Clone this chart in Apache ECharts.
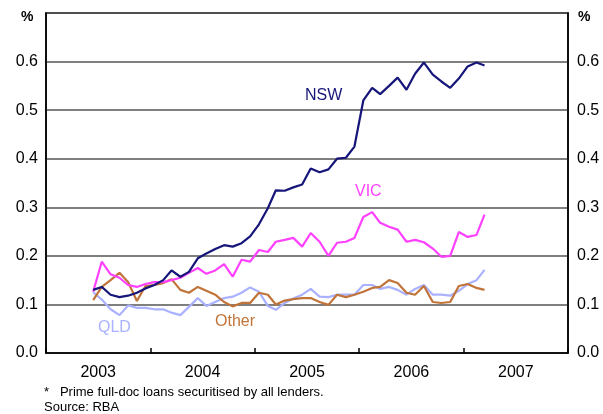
<!DOCTYPE html>
<html>
<head>
<meta charset="utf-8">
<script src="https://cdn.jsdelivr.net/npm/echarts@6/dist/echarts.min.js"></script>
<style>
  html, body { margin: 0; padding: 0; background: #fff; }
  #chart { width: 603px; height: 414px; }
</style>
</head>
<body>
<div id="chart"></div>
<script>
// year labels under the axis
const years = ['2003', '2004', '2005', '2006', '2007'];

// monthly observations (mid-month)
const months = [
  '2003-06', '2003-07', '2003-08', '2003-09', '2003-10', '2003-11', '2003-12',
  '2004-01', '2004-02', '2004-03', '2004-04', '2004-05', '2004-06', '2004-07', '2004-08', '2004-09', '2004-10', '2004-11', '2004-12',
  '2005-01', '2005-02', '2005-03', '2005-04', '2005-05', '2005-06', '2005-07', '2005-08', '2005-09', '2005-10', '2005-11', '2005-12',
  '2006-01', '2006-02', '2006-03', '2006-04', '2006-05', '2006-06', '2006-07', '2006-08', '2006-09', '2006-10', '2006-11', '2006-12',
  '2007-01', '2007-02', '2007-03'
];

const nsw = [0.130, 0.136, 0.120, 0.115, 0.118, 0.124, 0.133, 0.140, 0.150, 0.170, 0.157, 0.167,
  0.195, 0.205, 0.214, 0.222, 0.219, 0.226, 0.240, 0.265, 0.298, 0.335, 0.334, 0.341,
  0.347, 0.380, 0.372, 0.378, 0.400, 0.402, 0.425, 0.520, 0.546, 0.533, 0.550, 0.567,
  0.542, 0.575, 0.598, 0.573, 0.559, 0.546, 0.565, 0.590, 0.598, 0.592];

const vic = [0.126, 0.188, 0.162, 0.155, 0.140, 0.136, 0.142, 0.146, 0.146, 0.150, 0.155, 0.165,
  0.175, 0.163, 0.170, 0.183, 0.157, 0.192, 0.188, 0.212, 0.208, 0.229, 0.233, 0.237,
  0.219, 0.247, 0.229, 0.200, 0.227, 0.229, 0.237, 0.280, 0.290, 0.268, 0.260, 0.254,
  0.229, 0.233, 0.228, 0.215, 0.198, 0.200, 0.249, 0.239, 0.243, 0.285];

const qld = [0.125, 0.110, 0.090, 0.078, 0.098, 0.093, 0.093, 0.090, 0.090, 0.083, 0.078, 0.095,
  0.113, 0.097, 0.105, 0.113, 0.116, 0.124, 0.135, 0.126, 0.097, 0.089, 0.103, 0.112,
  0.120, 0.132, 0.116, 0.115, 0.120, 0.120, 0.120, 0.140, 0.140, 0.132, 0.136, 0.130,
  0.120, 0.132, 0.140, 0.120, 0.120, 0.118, 0.128, 0.142, 0.150, 0.171];

const other = [0.109, 0.136, 0.150, 0.165, 0.146, 0.107, 0.138, 0.140, 0.144, 0.152, 0.130, 0.124,
  0.136, 0.128, 0.120, 0.105, 0.096, 0.103, 0.103, 0.124, 0.120, 0.100, 0.108, 0.111,
  0.113, 0.113, 0.105, 0.099, 0.120, 0.115, 0.120, 0.126, 0.134, 0.136, 0.150, 0.144,
  0.124, 0.120, 0.138, 0.105, 0.103, 0.105, 0.138, 0.142, 0.134, 0.130];

const pairs = (vals) => vals.map((v, i) => [months[i] + '-15', v]);

const font = 'Liberation Sans, Arial, sans-serif';

const yLabel = (value) => value > 0.65 ? '' : value.toFixed(1);

let option = {
  animation: false,
  backgroundColor: '#fff',
  grid: {
    left: 46, right: 35, top: 13, bottom: 61,
    show: true,
    borderColor: '#000',
    borderWidth: 1.5
  },
  xAxis: [{
    type: 'category',
    data: years,
    boundaryGap: true,
    axisLine: { lineStyle: { color: '#000', width: 1.5 } },
    axisTick: { show: true, inside: true, length: 5, lineStyle: { color: '#000', width: 1.5 } },
    axisLabel: { color: '#000', fontFamily: font, fontSize: 16, margin: 12 },
    splitLine: { show: false }
  }, {
    type: 'time',
    min: '2003-01-01',
    max: '2008-01-01',
    show: false,
    splitLine: { show: false }
  }],
  yAxis: [{
    type: 'value',
    min: 0, max: 0.7, interval: 0.1,
    axisLine: { show: true, lineStyle: { color: '#000', width: 1.5 } },
    axisTick: { show: false },
    axisLabel: { color: '#000', fontFamily: font, fontSize: 16, margin: 8, formatter: yLabel },
    splitLine: { lineStyle: { color: '#555', width: 1.5 } }
  }, {
    type: 'value',
    position: 'right',
    min: 0, max: 0.7, interval: 0.1,
    axisLine: { show: true, lineStyle: { color: '#000', width: 1.5 } },
    axisTick: { show: false },
    axisLabel: { color: '#000', fontFamily: font, fontSize: 16, margin: 9, formatter: yLabel },
    splitLine: { show: false }
  }],
  series: [
    { name: 'QLD', type: 'line', xAxisIndex: 1, showSymbol: false, data: pairs(qld),
      lineStyle: { color: '#aab2ff', width: 2.2 } },
    { name: 'Other', type: 'line', xAxisIndex: 1, showSymbol: false, data: pairs(other),
      lineStyle: { color: '#c0743a', width: 2.2 } },
    { name: 'VIC', type: 'line', xAxisIndex: 1, showSymbol: false, data: pairs(vic),
      lineStyle: { color: '#ff40ff', width: 2.2 } },
    { name: 'NSW', type: 'line', xAxisIndex: 1, showSymbol: false, data: pairs(nsw),
      lineStyle: { color: '#16167a', width: 2.2 } }
  ],
  graphic: [
    { type: 'text', left: 21, top: 10, style: { text: '%', font: 'bold 14px ' + font, fill: '#000' } },
    { type: 'text', left: 578, top: 10, style: { text: '%', font: 'bold 14px ' + font, fill: '#000' } },
    { type: 'text', left: 305, top: 88, style: { text: 'NSW', font: '16px ' + font, fill: '#16167a' } },
    { type: 'text', left: 355, top: 184, style: { text: 'VIC', font: '16px ' + font, fill: '#ff40ff' } },
    { type: 'text', left: 98, top: 320, style: { text: 'QLD', font: '16px ' + font, fill: '#aab2ff' } },
    { type: 'text', left: 215, top: 314, style: { text: 'Other', font: '16px ' + font, fill: '#c0743a' } },
    { type: 'text', left: 44, top: 386, style: { text: '*   Prime full-doc loans securitised by all lenders.', font: '13px ' + font, fill: '#000' } },
    { type: 'text', left: 44, top: 401, style: { text: 'Source: RBA', font: '13px ' + font, fill: '#000' } }
  ]
};

const myChart = echarts.init(document.getElementById('chart'));
myChart.setOption(option);
</script>
</body>
</html>
